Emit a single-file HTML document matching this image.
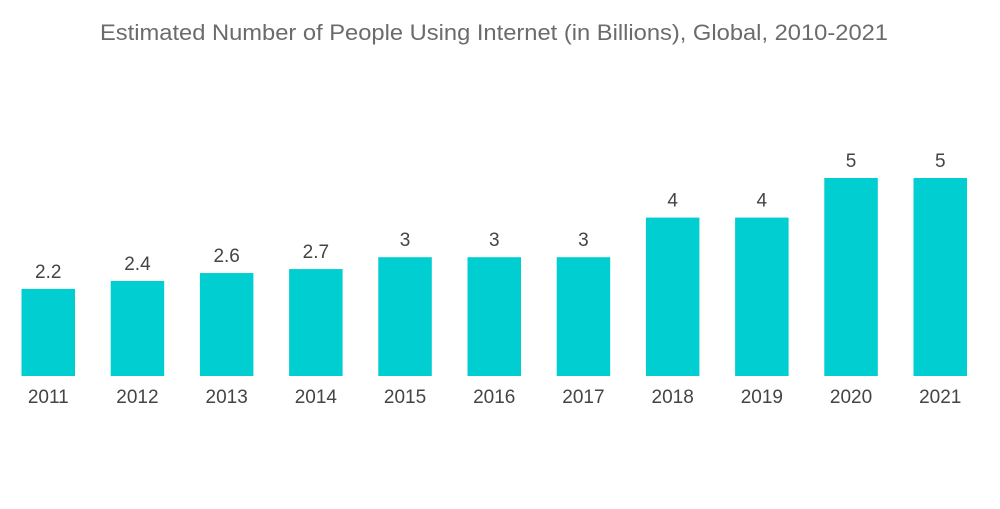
<!DOCTYPE html>
<html><head><meta charset="utf-8"><style>
body{margin:0;background:#fff;width:1000px;height:504px;overflow:hidden;font-family:"Liberation Sans",sans-serif}
</style></head><body>
<svg id="chart" width="1000" height="504" xmlns="http://www.w3.org/2000/svg">
<text x="100" y="40" textLength="788" lengthAdjust="spacingAndGlyphs" font-size="22" fill="#6b6b6b" font-family="Liberation Sans, sans-serif">Estimated Number of People Using Internet (in Billions), Global, 2010-2021</text>
<g id="bars"></g>
</svg>
<script>
const categories=["2011","2012","2013","2014","2015","2016","2017","2018","2019","2020","2021"];
const values=[2.2,2.4,2.6,2.7,3,3,3,4,4,5,5];
const valueLabels=["2.2","2.4","2.6","2.7","3","3","3","4","4","5","5"];
const baseY=376, pxPerUnit=39.6, x0=21.5, step=89.2, bw=53.5;
function xPos(i){return x0+i*step;}
function yPos(v){return baseY-v*pxPerUnit;}
const g=document.getElementById('bars');
const NS='http://www.w3.org/2000/svg';
categories.forEach((c,i)=>{
  const r=document.createElementNS(NS,'rect');
  
  
  r.setAttribute('x',xPos(i));r.setAttribute('y',yPos(values[i]));
  r.setAttribute('width',bw);r.setAttribute('height',baseY-yPos(values[i]));
  r.setAttribute('fill','#00ced1');g.appendChild(r);
  const t=document.createElementNS(NS,'text');
  
  
  t.setAttribute('x',xPos(i)+bw/2);t.setAttribute('y',yPos(values[i])-11);
  t.setAttribute('text-anchor','middle');t.setAttribute('font-size','19');t.setAttribute('fill','#444');
  t.textContent=valueLabels[i];g.appendChild(t);
  const l=document.createElementNS(NS,'text');
  
  
  l.setAttribute('x',xPos(i)+bw/2);l.setAttribute('y',403);
  l.setAttribute('text-anchor','middle');l.setAttribute('font-size','19');l.setAttribute('fill','#444');
  l.textContent=c;g.appendChild(l);
});
</script>
</body></html>
